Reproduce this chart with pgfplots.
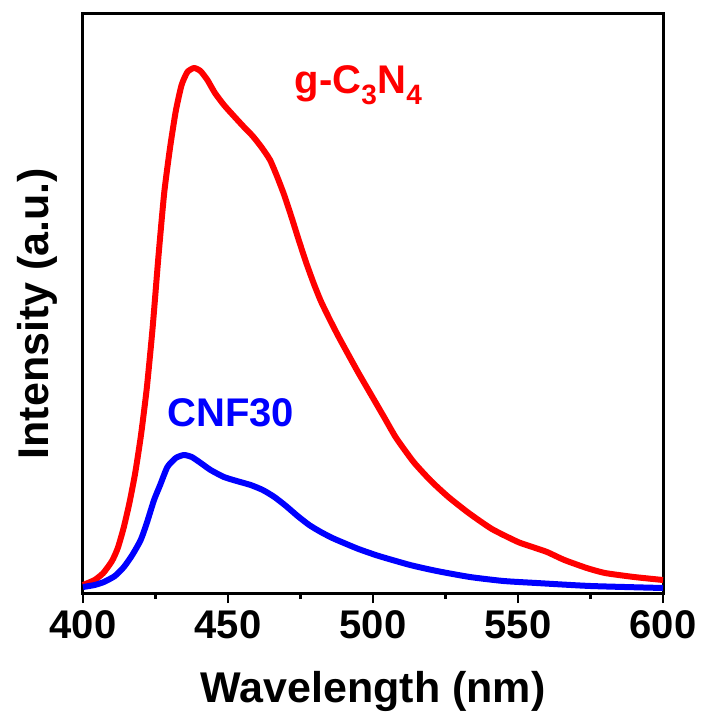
\documentclass[border=0pt]{standalone}
\usepackage{fontspec}
\setmainfont{Liberation Sans}
\usepackage{pgfplots}
\pgfplotsset{compat=1.18}
\begin{document}
\begin{tikzpicture}
\begin{axis}[
  at={(0,0)}, anchor=south west,
  scale only axis, width=580pt, height=579pt,
  xmin=400, xmax=600, ymin=0, ymax=579,
  axis line style={line width=3pt},
  xtick={400,450,...,600}, minor x tick num=1,
  ytick=\empty,
  xtick pos=bottom, tick align=outside,
  major tick length=10pt, minor tick length=6pt,
  every tick/.style={black, line width=2.2pt},
  /pgf/number format/assume math mode=true,
  ticklabel style={font=\fontsize{40}{44}\selectfont\bfseries},
  xticklabel style={yshift=-4pt},
  xlabel={Wavelength (nm)},
  ylabel={Intensity (a.u.)},
  label style={font=\fontsize{43}{48}\selectfont\bfseries},
  xlabel style={yshift=-26pt},
  ylabel style={yshift=12pt, xshift=-10pt},
  clip=false,
]
\addplot[red, line width=6pt, smooth, tension=0.35, line join=round] coordinates {
(400,8) (404,13) (407,20) (410,32) (412,45) (414,65) (416,90) (418,120)
(420,158) (422,205) (424,265) (426,336) (428,400) (430,445) (432,482)
(434,508) (436,521) (438.3,525) (440.5,522)
(442.9,513) (445.5,500) (448.6,488) (452,477) (455.5,466) (458.5,457) (461.5,446)
(464.5,433) (467,416) (469.5,397) (472,375) (474.5,352) (477,330) (479.5,310)
(482,292) (485,274) (488,257) (491,241) (495,220) (500,195) (504,175)
(508,155) (514,131) (520,112) (526,96) (533,80) (541,64) (550,51)
(555,46) (560,41) (566,33) (573.7,25) (580,20) (590,16) (600,13)
};
\addplot[blue, line width=6pt, smooth, tension=0.35, line join=round] coordinates {
(400,6) (404,8) (407.2,11) (411,17) (414.1,26) (417,38) (419.9,53) (422,70)
(424.5,93) (426.6,108) (429.1,126) (432,135) (434.8,138) (437.5,136) (440.6,130)
(444,123) (448.6,116) (453,112) (457.8,108) (462,103) (466,96) (470,87)
(474,77) (478,68) (482,61) (486,55) (490,50) (495,44) (502,37) (512.8,28) (522,22)
(533.4,16) (545,12) (556.4,10) (575,7) (600,5)
};
\node[red, font=\fontsize{40}{44}\selectfont\bfseries] at (axis cs:495,508) {g-C$_{\mathbf{3}}$N$_{\mathbf{4}}$};
\node[blue, font=\fontsize{40}{44}\selectfont\bfseries] at (axis cs:451,180) {CNF30};
\end{axis}
\path (-83pt,-130pt) rectangle (621pt,593pt);
\end{tikzpicture}
\end{document}
